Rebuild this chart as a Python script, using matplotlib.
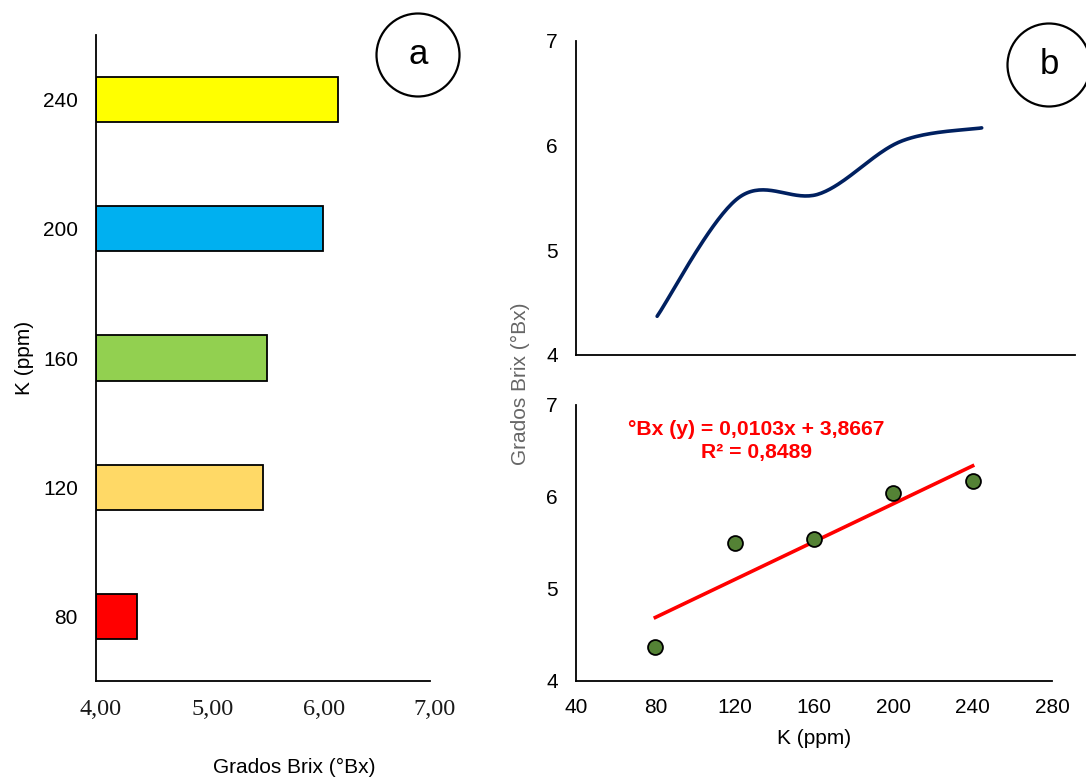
import numpy as np
import matplotlib
matplotlib.use('Agg')
import matplotlib.pyplot as plt
import matplotlib.transforms as mtransforms
from matplotlib.patches import Ellipse

plt.rcParams['font.family'] = ['Liberation Sans', 'DejaVu Sans']

# K doses and measured soluble solids
k_ppm = [80, 120, 160, 200, 240]
brix = [4.37, 5.50, 5.54, 6.04, 6.17]
bar_colors = ['#FF0000', '#FFD966', '#92D050', '#00B0F0', '#FFFF00']
bar_ticks = [4, 5, 6, 7]
bar_ticklabels = ['4,00', '5,00', '6,00', '7,00']
b_xticks = [40, 80, 120, 160, 200, 240, 280]
b_yticks = [4, 5, 6, 7]

W, H = 1086, 778
fig = plt.figure(figsize=(W / 100, H / 100), dpi=100)


def frac(x0, y0, x1, y1):
    # pixel box -> [left, bottom, width, height] in figure fraction
    return [x0 / W, 1 - y1 / H, (x1 - x0) / W, (y1 - y0) / H]


def style(ax):
    for s in ['top', 'right']:
        ax.spines[s].set_visible(False)
    for s in ['left', 'bottom']:
        ax.spines[s].set_linewidth(1.3)
        ax.spines[s].set_color('black')
    ax.tick_params(length=0, labelsize=15)


# ---- (a) horizontal bars ----
axa = fig.add_axes(frac(96, 35, 430, 681))
style(axa)
ypos = np.arange(len(k_ppm))
axa.barh(ypos, np.array(brix) - 4, left=4, height=0.35, color=bar_colors,
         edgecolor='black', linewidth=1.3)
axa.set_xlim(4, 7)
axa.set_ylim(-0.5, 4.5)
axa.set_yticks(ypos)
axa.set_yticklabels([str(k) for k in k_ppm])
axa.set_xticks(bar_ticks)
axa.set_xticklabels(bar_ticklabels, family='Liberation Serif', color='#1a1a1a', fontsize=17.5)
axa.tick_params(axis='y', pad=13)
axa.tick_params(axis='x', pad=13)
shift = mtransforms.ScaledTranslation(5 / 100, 0, fig.dpi_scale_trans)
for lbl in axa.get_xticklabels():
    lbl.set_transform(lbl.get_transform() + shift)
fig.text(25 / W, 1 - 358 / H, 'K (ppm)', rotation=90, ha='center', va='center', fontsize=15)
fig.text(294 / W, 1 - 767 / H, 'Grados Brix (°Bx)', ha='center', va='center', fontsize=15)


# ---- (b) top: smoothed line (Excel-style Bezier through the points) ----
def smooth(xs, ys, n=40):
    p = np.column_stack([xs, ys]).astype(float)
    pts = np.vstack([p[0], p, p[-1]])
    out = []
    for i in range(1, len(pts) - 2):
        p0, p1, p2, p3 = pts[i - 1], pts[i], pts[i + 1], pts[i + 2]
        c1 = p1 + (p2 - p0) / 6
        c2 = p2 - (p3 - p1) / 6
        t = np.linspace(0, 1, n)[:, None]
        seg = ((1 - t) ** 3) * p1 + 3 * ((1 - t) ** 2) * t * c1 + 3 * (1 - t) * t ** 2 * c2 + t ** 3 * p2
        out.append(seg)
    c = np.vstack(out)
    return c[:, 0], c[:, 1]


axt = fig.add_axes(frac(576, 41, 1075, 355))
sx, sy = smooth(k_ppm, brix)
axt.plot(sx, sy, color='#002060', linewidth=2.6, solid_capstyle='round')
axt.set_xlim(40, 286)
axt.set_ylim(4, 7)
axt.set_yticks(b_yticks)
axt.set_xticks([])
style(axt)
axt.tick_params(axis='y', pad=13)

# ---- (b) bottom: scatter with linear trend ----
axs = fig.add_axes(frac(576, 405, 1052, 681))
xt = np.array([k_ppm[0], k_ppm[-1]])
axs.plot(xt, 0.0103 * xt + 3.8667, color='#FF0000', linewidth=2.6, zorder=2)
axs.scatter(k_ppm, brix, s=115, color='#548235', edgecolor='black', linewidth=1.3, zorder=3)
axs.set_xlim(40, 280)
axs.set_ylim(4, 7)
axs.set_xticks(b_xticks)
axs.set_yticks(b_yticks)
style(axs)
axs.tick_params(axis='y', pad=13)
axs.tick_params(axis='x', pad=12)
axs.text(130.8, 6.73, '°Bx (y) = 0,0103x + 3,8667', color='#FF0000', fontsize=15.2,
         fontweight='bold', ha='center', va='center')
axs.text(130.8, 6.48, 'R² = 0,8489', color='#FF0000', fontsize=15.2,
         fontweight='bold', ha='center', va='center')
fig.text(814 / W, 1 - 739 / H, 'K (ppm)', ha='center', va='center', fontsize=15)
fig.text(520 / W, 1 - 384 / H, 'Grados Brix (°Bx)', rotation=90, ha='center', va='center',
         fontsize=15, color='#666666')

# panel markers
for cx, cy, lab in [(418, 55, 'a'), (1049, 65, 'b')]:
    fig.add_artist(Ellipse((cx / W, 1 - cy / H), 83 / W, 83 / H, transform=fig.transFigure,
                           facecolor='white', edgecolor='black', linewidth=1.6))
    fig.text(cx / W, 1 - cy / H, lab, ha='center', va='center', fontsize=25)

fig.savefig('out.png', dpi=100, facecolor='white')
